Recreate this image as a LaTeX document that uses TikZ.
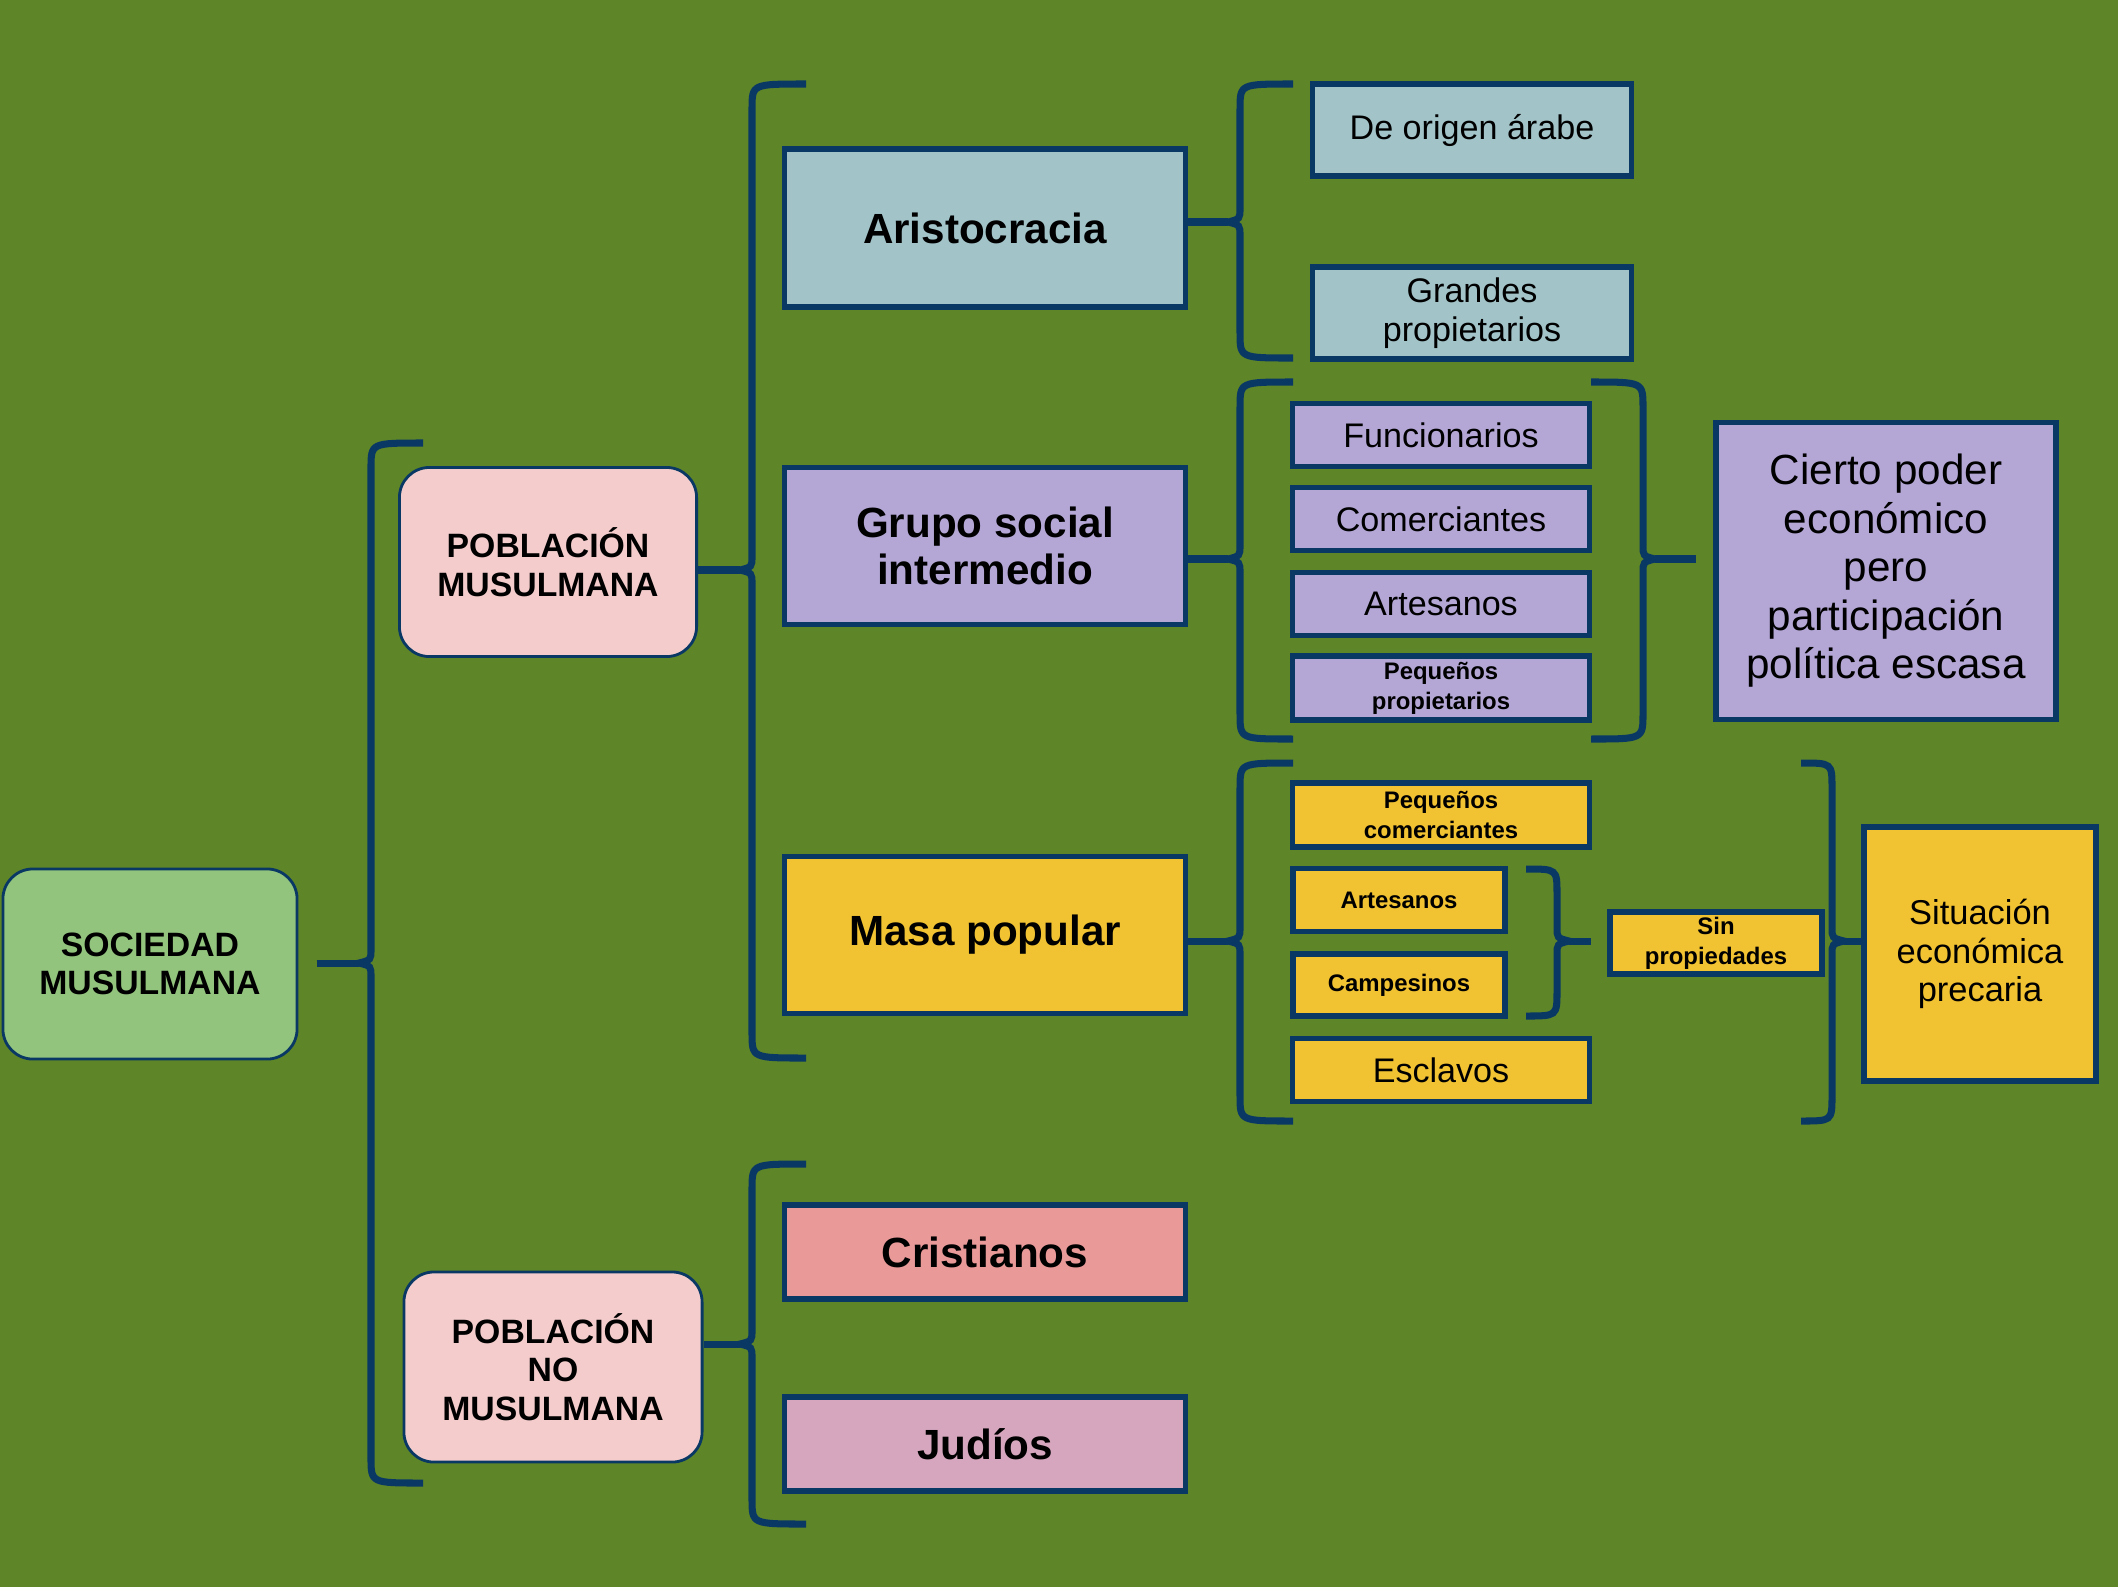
\documentclass[tikz,border=0pt]{standalone}
\usepackage{fontspec}
\setmainfont{Liberation Sans}
\definecolor{bg}{RGB}{94,133,40}
\definecolor{navy}{RGB}{9,56,100}
\definecolor{socfill}{RGB}{147,196,125}
\definecolor{pobfill}{RGB}{244,204,204}
\definecolor{arisfill}{RGB}{162,196,201}
\definecolor{grupofill}{RGB}{180,167,214}
\definecolor{masafill}{RGB}{241,194,50}
\definecolor{cristfill}{RGB}{234,153,153}
\definecolor{judfill}{RGB}{213,166,189}
\tikzset{
  box/.style={draw=navy, line width=1.5pt, align=center, inner sep=1pt},
  rootbox/.style={box, line width=0.8pt, rounded corners=0.3cm,
    font=\bfseries\fontsize{9.6}{11}\selectfont},
  mainbox/.style={box, minimum width=4.01cm, font=\bfseries\fontsize{12}{13.4}\selectfont},
  subbox/.style={box, font=\fontsize{9.7}{11}\selectfont},
  smallbox/.style={box, font=\bfseries\fontsize{6.8}{8.5}\selectfont},
  brace/.style={draw=navy, line width=2pt},
}

\begin{document}
\begin{tikzpicture}[x=0.01cm, y=-0.01cm]
\fill[bg] (0,0) rectangle (2118,1587);

% first level
\node[rootbox, fill=socfill, minimum width=2.94cm, minimum height=1.9cm] (soc) at (150,964) {SOCIEDAD\\MUSULMANA};
\node[rootbox, fill=pobfill, minimum width=2.97cm, minimum height=1.89cm] (pobm) at (548,562) {POBLACIÓN\\MUSULMANA};
\node[rootbox, fill=pobfill, minimum width=2.98cm, minimum height=1.9cm] (pobn) at (553,1367) {POBLACIÓN\\NO\\MUSULMANA};

% groups
\node[mainbox, fill=arisfill, minimum height=1.58cm] (aris) at (985,228) {Aristocracia};
\node[mainbox, fill=grupofill, minimum height=1.57cm] (grupo) at (985,546) {Grupo social\\intermedio};
\node[mainbox, fill=masafill, minimum height=1.57cm] (masa) at (985,935) {Masa popular};
\node[mainbox, fill=cristfill, minimum height=0.94cm] (crist) at (985,1252) {Cristianos};
\node[mainbox, fill=judfill, minimum height=0.94cm] (jud) at (985,1444) {Judíos};

% aristocracia
\node[subbox, fill=arisfill, minimum width=3.19cm, minimum height=0.92cm] (orig) at (1472,130) {De origen árabe};
\node[subbox, fill=arisfill, minimum width=3.19cm, minimum height=0.92cm] (grand) at (1472,313) {Grandes\\propietarios};

% grupo social intermedio
\node[subbox, fill=grupofill, minimum width=2.97cm, minimum height=0.63cm] (func) at (1441,435) {Funcionarios};
\node[subbox, fill=grupofill, minimum width=2.97cm, minimum height=0.63cm] (come) at (1441,519) {Comerciantes};
\node[subbox, fill=grupofill, minimum width=2.97cm, minimum height=0.63cm] (arte) at (1441,604) {Artesanos};
\node[smallbox, fill=grupofill, minimum width=2.97cm, minimum height=0.64cm] (pprop) at (1441,688) {Pequeños\\propietarios};
\node[box, fill=grupofill, minimum width=3.4cm, minimum height=2.97cm,
  font=\fontsize{12}{13.8}\selectfont] (cierto) at (1886,571) {Cierto poder\\económico\\pero\\participación\\política escasa};

% masa popular
\node[smallbox, fill=masafill, minimum width=2.97cm, minimum height=0.64cm] (pcom) at (1441,815) {Pequeños\\comerciantes};
\node[smallbox, fill=masafill, minimum width=2.12cm, minimum height=0.63cm] (arty) at (1399,900) {Artesanos};
\node[smallbox, fill=masafill, minimum width=2.12cm, minimum height=0.62cm] (camp) at (1399,985) {Campesinos};
\node[subbox, fill=masafill, minimum width=2.97cm, minimum height=0.63cm] (escl) at (1441,1070) {Esclavos};
\node[smallbox, fill=masafill, minimum width=2.12cm, minimum height=0.62cm] (sinp) at (1716,943) {Sin\\propiedades};
\node[box, fill=masafill, minimum width=2.32cm, minimum height=2.54cm,
  font=\fontsize{9.8}{11}\selectfont] (situ) at (1980,954) {Situación\\económica\\precaria};

% braces opening to the right
\foreach \n/\X/\T/\B/\M/\E in {t1/371/443/1483/963/423, t2/752/84/1058/570/806,
    t3/752/1164/1524/1344/806, t4/1240/84/358/222/1293,
    t5/1240/382/739/559/1293, t6/1240/763/1121/941/1293}{
  \draw[brace] (\E,\T) .. controls (\X,\T) .. (\X,\T+25) -- (\X,\M-14)
    .. controls (\X,\M-3) .. (\X-12,\M) .. controls (\X,\M+3) .. (\X,\M+14)
    -- (\X,\B-25) .. controls (\X,\B) .. (\E,\B);
  \coordinate (\n) at (\X-12,\M);
}
% braces opening to the left
\foreach \n/\X/\T/\B/\M/\E in {r1/1643/382/739/559/1591, r2/1557/869/1016/941/1526,
    r3/1832/763/1121/941/1801}{
  \draw[brace] (\E,\T) .. controls (\X,\T) .. (\X,\T+25) -- (\X,\M-14)
    .. controls (\X,\M-3) .. (\X+12,\M) .. controls (\X,\M+3) .. (\X,\M+14)
    -- (\X,\B-25) .. controls (\X,\B) .. (\E,\B);
  \coordinate (\n) at (\X+12,\M);
}

% stems
\draw[brace, shorten <=0.18cm] (soc.east |- t1) -- (t1);
\draw[brace] (pobm.east |- t2) -- (t2);
\draw[brace] (pobn.east |- t3) -- (t3);
\draw[brace] (aris.east |- t4) -- (t4);
\draw[brace] (grupo.east |- t5) -- (t5);
\draw[brace] (masa.east |- t6) -- (t6);
\draw[brace, shorten >=0.17cm] (r1) -- (cierto.west |- r1);
\draw[brace, shorten >=0.16cm] (r2) -- (sinp.west |- r2);
\draw[brace] (r3) -- (situ.west |- r3);
\end{tikzpicture}
\end{document}
